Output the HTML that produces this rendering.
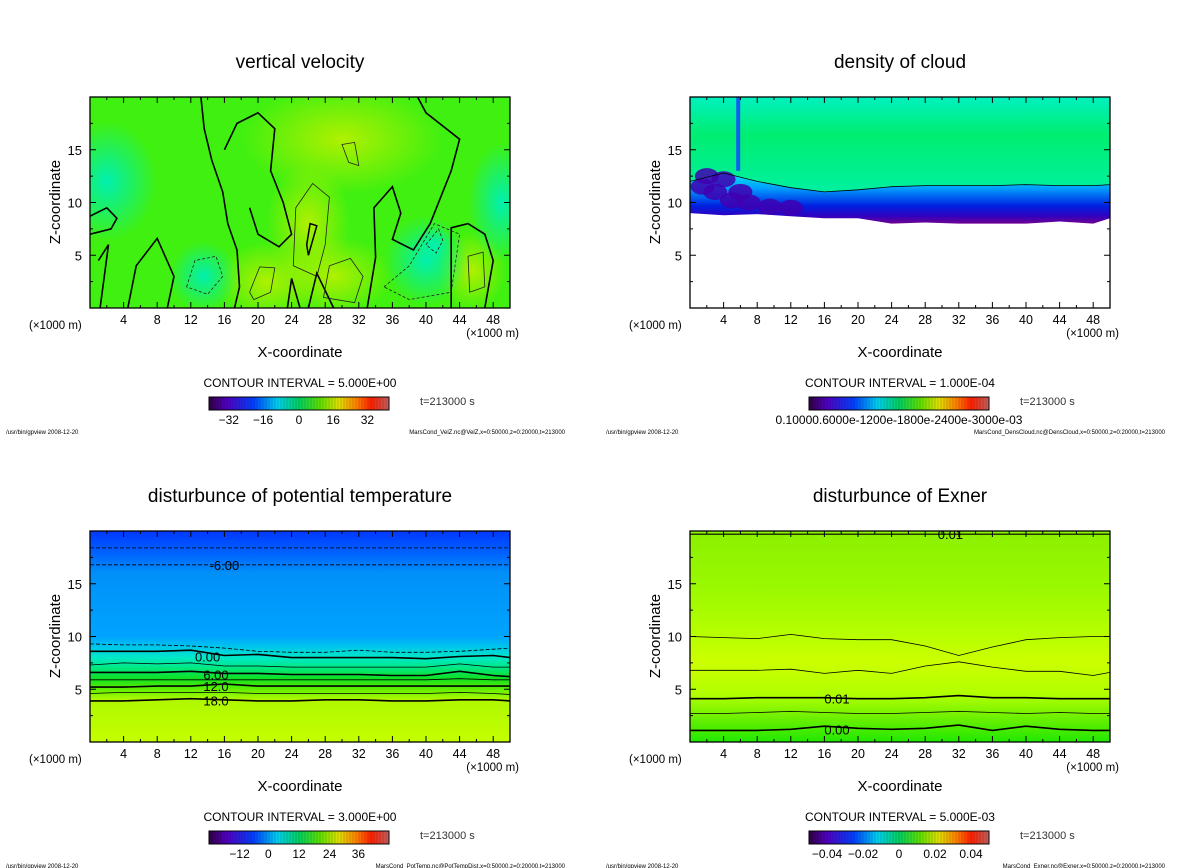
<!DOCTYPE html>
<html><head><meta charset="utf-8">
<style>
body{margin:0;background:#fff;width:1200px;height:868px;overflow:hidden}
svg{display:block;font-family:"Liberation Sans","DejaVu Sans",sans-serif}
</style></head>
<body>
<svg id="c" width="1200" height="868" viewBox="0 0 1200 868" xmlns="http://www.w3.org/2000/svg">
<defs>
<linearGradient id="gPT" x1="0" y1="0" x2="0" y2="1">
<stop offset="0" stop-color="#0038ff"/><stop offset="0.1" stop-color="#0060ff"/><stop offset="0.2" stop-color="#0090f8"/>
<stop offset="0.5" stop-color="#00a4ff"/><stop offset="0.54" stop-color="#00c0f0"/><stop offset="0.6" stop-color="#00e8c8"/>
<stop offset="0.65" stop-color="#00e880"/><stop offset="0.7" stop-color="#10e020"/><stop offset="0.75" stop-color="#60f000"/>
<stop offset="0.8" stop-color="#b0f800"/><stop offset="1" stop-color="#c4ff00"/></linearGradient>
<linearGradient id="gEX" x1="0" y1="0" x2="0" y2="1">
<stop offset="0" stop-color="#8cf000"/><stop offset="0.25" stop-color="#98f800"/><stop offset="0.5" stop-color="#b8ff00"/>
<stop offset="0.62" stop-color="#ccff00"/><stop offset="0.78" stop-color="#b0ff00"/><stop offset="0.88" stop-color="#70f000"/>
<stop offset="1" stop-color="#20e800"/></linearGradient>
<linearGradient id="gTopCl" x1="0" y1="0" x2="0" y2="1">
<stop offset="0" stop-color="#00f0c0"/><stop offset="0.4" stop-color="#00ee70"/><stop offset="1" stop-color="#00f0a0"/></linearGradient>
<linearGradient id="gCL" x1="0" y1="0" x2="0" y2="1">
<stop offset="0" stop-color="#00e8f0"/><stop offset="0.3" stop-color="#00a0ff"/><stop offset="0.65" stop-color="#0020e0"/>
<stop offset="0.85" stop-color="#3000c0"/><stop offset="1" stop-color="#700090"/></linearGradient>
<linearGradient id="gCB" x1="0" y1="0" x2="1" y2="0">
<stop offset="0" stop-color="#300040"/><stop offset="0.1" stop-color="#5000c0"/><stop offset="0.25" stop-color="#0040ff"/>
<stop offset="0.38" stop-color="#00d0f0"/><stop offset="0.5" stop-color="#00d060"/><stop offset="0.62" stop-color="#60e000"/>
<stop offset="0.72" stop-color="#e0e000"/><stop offset="0.82" stop-color="#ff8000"/><stop offset="0.9" stop-color="#ff2000"/>
<stop offset="1" stop-color="#c06060"/></linearGradient>
<radialGradient id="gY"><stop offset="0" stop-color="#b0f000"/><stop offset="1" stop-color="#b0f000" stop-opacity="0"/></radialGradient>
<radialGradient id="gC"><stop offset="0" stop-color="#00f0b0"/><stop offset="1" stop-color="#00f0b0" stop-opacity="0"/></radialGradient>
</defs>
<g id="root"></g>
</svg>
<script>
// data arrays
const xTicks = [4,8,12,16,20,24,28,32,36,40,44,48];
const zTicks = [5,10,15];
const xsProfile = [0,4,8,12,16,20,24,28,32,36,40,44,48,50];
// potential temperature contour heights (km) along xsProfile
const ptLevels = [
 [18.4,18.4,18.4,18.4,18.4,18.4,18.4,18.4,18.4,18.4,18.4,18.4,18.4,18.4],
 [16.8,16.8,16.8,16.8,16.8,16.8,16.8,16.8,16.8,16.8,16.8,16.8,16.8,16.8],
 [9.3,9.2,9.2,9.1,8.9,8.6,8.5,8.5,8.7,8.5,8.5,8.6,8.8,8.9],
 [8.6,8.6,8.6,8.7,8.2,8.3,8.0,8.0,8.0,8.0,7.9,8.1,8.2,8.0],
 [7.3,7.5,7.4,7.5,7.2,7.2,7.1,7.1,7.1,7.1,7.1,7.4,7.1,7.1],
 [6.6,6.6,6.6,6.7,6.5,6.5,6.4,6.4,6.4,6.3,6.3,6.7,6.3,6.2],
 [5.9,5.9,5.9,5.9,5.9,5.9,5.9,5.9,5.9,5.9,5.9,6.0,5.9,5.9],
 [5.2,5.2,5.3,5.3,5.5,5.3,5.3,5.3,5.3,5.3,5.3,5.3,5.3,5.3],
 [4.6,4.7,4.7,4.7,4.7,4.6,4.6,4.6,4.6,4.6,4.6,4.7,4.6,4.5],
 [3.9,3.9,4.0,4.1,4.0,3.9,3.9,4.0,4.0,3.9,3.9,4.0,4.0,3.9]];
const ptDashed = [true,true,true,false,false,false,false,false,false,false];
const ptLabels = [[16,16.8,"-6.00"],[14,8.1,"0.00"],[15,6.4,"6.00"],[15,5.3,"12.0"],[15,3.95,"18.0"]];
// Exner contour heights
const exLevels = [
 [19.7,19.7,19.7,19.7,19.7,19.7,19.7,19.7,19.7,19.7,19.7,19.7,19.7,19.7],
 [10.0,9.9,9.8,10.2,9.8,9.7,9.7,9.1,8.2,9.0,9.7,9.9,10.0,10.0],
 [6.8,6.8,6.8,6.9,6.5,6.8,6.5,7.2,7.6,7.1,6.7,6.7,6.3,6.6],
 [4.1,4.1,4.2,4.2,4.2,4.1,4.1,4.2,4.4,4.2,4.2,4.1,4.1,4.1],
 [2.7,2.7,2.8,2.9,2.8,2.7,2.7,2.8,2.9,2.8,2.7,2.8,2.7,2.7],
 [1.1,1.1,1.1,1.2,1.5,1.3,1.2,1.3,1.6,1.1,1.5,1.2,1.1,1.1]];
const exWidth = [1.2,0.8,0.8,1.6,0.8,1.6];
const exLabels = [[31,19.7,"0.01"],[17.5,4.1,"0.01"],[17.5,1.2,"0.00"]];
// cloud top boundary (upper contour) and base
const clTop = [12.0,12.8,12.0,11.4,11.0,11.2,11.5,11.6,11.6,11.6,11.7,11.6,11.6,11.7];
const clBase = [9.0,8.8,8.9,8.7,8.5,8.5,8.0,8.1,8.0,8.0,8.0,8.2,8.0,8.5];
// vertical velocity zero contours (x in km, z in km)
const vvZero = [
 [[13.2,20],[13.6,17],[14.5,14],[15.8,11],[16.4,8],[17.5,5.5],[17.8,2],[17.2,0]],
 [[16,15],[17.5,17.5],[20,18.5],[22,17],[21.5,13],[23,10],[24,7],[22.5,5.8],[20,7],[19,9.5]],
 [[33,0],[34,4.8],[33.8,9.5],[36,11.5],[37,9],[36,6.5],[38.5,5.5],[40.5,8],[43,13],[44,16],[40,18.5],[39,20]],
 [[23.5,0],[24,2.8],[25,0]],[[26,0],[27,3.3],[29,0]],[[1.2,0],[2.2,6],[1,4.5]],
 [[4.5,0],[5.5,4],[8,6.6],[10,3],[9.2,0]],[[43,0],[43,7.6],[45,8],[47,7],[48,4.5],[47,0]],
 [[0,8.7],[2,9.5],[3.2,8.5],[2.5,7.5],[0,7]]];
const vvPos = [[[19,1.5],[20.2,3.9],[22,3.8],[21.5,1.5],[19.5,0.8]],[[24.2,4],[24.5,9.5],[26.5,11.8],[28.5,10.5],[28,6],[27,3]],
 [[27.8,1],[28.5,4],[31,4.7],[32.5,3],[31.5,0.5]],[[45,4.9],[46.8,5.3],[47,2],[45.2,1.5]],[[30,15.5],[31.5,15.7],[32,13.5],[30.8,13.8]]];
const vvNeg = [[[11.5,2],[12.5,4.5],[15,4.9],[15.8,3],[14,1.3]],[[40,6],[41.5,7.5],[42,6.4],[41.2,5.2]],[[35,2],[38,4],[41,8],[44,7],[43,1.5],[38,0.8]]];

const svg = document.getElementById('root');
const NS='http://www.w3.org/2000/svg';
function el(tag,attrs,parent){const e=document.createElementNS(NS,tag);for(const k in attrs)e.setAttribute(k,attrs[k]);(parent||svg).appendChild(e);return e;}
function txt(s,x,y,size,anchor,parent,extra){const t=el('text',Object.assign({x:x,y:y,'font-size':size,'text-anchor':anchor||'start',fill:'#000'},extra||{}),parent);t.textContent=s;return t;}

function panel(ox,oy,title,name,opts){
  const g=el('g',{});
  
  
  const X0=ox,X1=ox+420,Y0=oy,Y1=oy+211;
  const sx=v=>X0+v/50*420, sz=v=>Y1-v/20*211;
  const t=txt(title,ox+210,oy-29,19,'middle',g);
  
  
  const plot=el('g',{},g);
  
  
  const clip='clip'+name;
  const cp=el('clipPath',{id:clip},g);el('rect',{x:X0,y:Y0,width:420,height:211},cp);
  plot.setAttribute('clip-path','url(#'+clip+')');
  opts.draw(plot,sx,sz);
  const frame=el('rect',{x:X0,y:Y0,width:420,height:211,fill:'none',stroke:'#000','stroke-width':1.3},g);
  
  
  for(let v=2;v<50;v+=2){const L=(v%4==0)?6:3;
    el('line',{x1:sx(v),x2:sx(v),y1:Y1,y2:Y1-L,stroke:'#000'},g);el('line',{x1:sx(v),x2:sx(v),y1:Y0,y2:Y0+L,stroke:'#000'},g);}
  for(let v=2.5;v<20;v+=2.5){const L=(v%5==0)?6:3;
    el('line',{x1:X0,x2:X0+L,y1:sz(v),y2:sz(v),stroke:'#000'},g);el('line',{x1:X1,x2:X1-L,y1:sz(v),y2:sz(v),stroke:'#000'},g);}
  xTicks.forEach(v=>{const l=txt(String(v),sx(v),Y1+16,12.5,'middle',g);
    
    });
  zTicks.forEach(v=>{const l=txt(String(v),X0-8,sz(v)+5,13,'end',g);
    
    });
  const u1=txt('(×1000 m)',X0-61,Y1+21,11.5,'start',g);
  
  
  const u2=txt('(×1000 m)',X1+9,Y1+29,11.5,'end',g);
  
  
  const xl=txt('X-coordinate',X0+210,Y1+49,15,'middle',g);
  
  
  const zl=txt('Z-coordinate',0,0,15,'middle',g,{transform:'translate('+(X0-30)+','+(Y0+105)+') rotate(-90)'});
  
  
  const ci=txt('CONTOUR INTERVAL = '+opts.ci,X0+210,Y1+79,12,'middle',g);
  
  
  const cb=el('rect',{x:X0+119,y:Y1+89,width:180,height:13,fill:'url(#gCB)',stroke:'#000'},g);
  
  
  for(let i=1;i<60;i++)el('line',{x1:X0+119+i*3,x2:X0+119+i*3,y1:Y1+90,y2:Y1+101,stroke:'#000','stroke-opacity':0.25,'stroke-width':0.6},g);
  opts.cbl.forEach(p=>{const l=txt(p[1],X0+119+p[0]*180,Y1+116,12,'middle',g);
    
    });
  const tt=txt('t=213000 s',X0+330,Y1+97,11,'start',g,{fill:'#333'});
  
  
  const f1=txt('/usr/bin/gpview  2008-12-20',ox-84,Y1+126,6,'start',g);
  
  
  const f2=txt(opts.foot,X1+55,Y1+126,6,'end',g);
  
  
}
function levelPath(sx,sz,arr){return arr.map((z,i)=>(i?'L':'M')+sx(xsProfile[i]).toFixed(1)+','+sz(z).toFixed(1)).join(' ');}
function polyPath(sx,sz,pts,close){return pts.map((p,i)=>(i?'L':'M')+sx(p[0]).toFixed(1)+','+sz(p[1]).toFixed(1)).join(' ')+(close?' Z':'');}

panel(90,97,'vertical velocity','vertical-velocity',{ci:'5.000E+00',cbl:[[0.11,'−32'],[0.3,'−16'],[0.5,'0'],[0.69,'16'],[0.88,'32']],
 foot:'MarsCond_VelZ.nc@VelZ,x=0:50000,z=0:20000,t=213000',
 draw:(p,sx,sz)=>{
  el('rect',{x:90,y:97,width:420,height:211,fill:'#40f010'},p);
  [[26,8,5,60],[29,3,7,40],[21,2.5,6,40],[45.5,3.5,4,40],[30,16,12,55]].forEach(b=>el('ellipse',{cx:sx(b[0]),cy:sz(b[1]),rx:b[2]*8.4,ry:b[3],fill:'url(#gY)'},p));
  [[13.5,3,4,35],[40,4.5,5,45],[41,6,2,18],[49,10,4,60],[2,12,6,60]].forEach(b=>el('ellipse',{cx:sx(b[0]),cy:sz(b[1]),rx:b[2]*8.4,ry:b[3],fill:'url(#gC)'},p));
  vvZero.forEach(c=>{const e=el('path',{d:polyPath(sx,sz,c,false),fill:'none',stroke:'#000','stroke-width':1.6},p);
    
    });
  vvPos.forEach(c=>{const e=el('path',{d:polyPath(sx,sz,c,true),fill:'none',stroke:'#222','stroke-width':0.8},p);
    
    });
  vvNeg.forEach(c=>{const e=el('path',{d:polyPath(sx,sz,c,true),fill:'none',stroke:'#222','stroke-width':0.8,'stroke-dasharray':'3,2'},p);
    
    });
  el('path',{d:polyPath(sx,sz,[[26,5],[27,7.8],[26.2,8],[25.8,6]],true),fill:'none',stroke:'#000','stroke-width':1.5},p);
 }});

panel(690,97,'density of cloud','density-of-cloud',{ci:'1.000E-04',cbl:[[0.5,'0.10000.6000e-1200e-1800e-2400e-3000e-03']],
 foot:'MarsCond_DensCloud.nc@DensCloud,x=0:50000,z=0:20000,t=213000',
 draw:(p,sx,sz)=>{
  el('rect',{x:690,y:97,width:420,height:211,fill:'#fff'},p);
  el('rect',{x:690,y:97,width:420,height:sz(11)-97,fill:'url(#gTopCl)'},p);
  const top=levelPath(sx,sz,clTop);
  let band=top;
  for(let i=clBase.length-1;i>=0;i--)band+=' L'+sx(xsProfile[i]).toFixed(1)+','+sz(clBase[i]).toFixed(1);
  band+=' Z';
  const b=el('path',{d:band,fill:'url(#gCL)'},p);
  
  
  el('rect',{x:sx(5.5),y:97,width:4,height:sz(13)-97,fill:'#1060f0'},p);
  [[1.5,11.5],[3,11],[5,10.2],[7,10],[9.5,9.6],[12,9.5],[2,12.5],[4,12.2],[6,11]].forEach(c=>el('ellipse',{cx:sx(c[0]),cy:sz(c[1]),rx:12,ry:8,fill:'#4000b0','fill-opacity':0.85},p));
  const c=el('path',{d:top,fill:'none',stroke:'#000','stroke-width':0.8},p);
  
  
 }});

panel(90,531,'disturbunce of potential temperature','potential-temperature',{ci:'3.000E+00',cbl:[[0.17,'−12'],[0.33,'0'],[0.5,'12'],[0.67,'24'],[0.83,'36']],
 foot:'MarsCond_PotTemp.nc@PotTempDist,x=0:50000,z=0:20000,t=213000',
 draw:(p,sx,sz)=>{
  el('rect',{x:90,y:531,width:420,height:211,fill:'url(#gPT)'},p);
  ptLevels.forEach((lv,i)=>{const e=el('path',{d:levelPath(sx,sz,lv),fill:'none',stroke:'#000','stroke-width':(i==3||i==5||i==7||i==9)?1.6:0.8,'stroke-dasharray':ptDashed[i]?'4,2':'none'},p);
    
    });
  ptLabels.forEach(l=>{
    const t=txt(l[2],sx(l[0]),sz(l[1])+5,13,'middle',p,{stroke:'none'});
    
    });
 }});

panel(690,531,'disturbunce of Exner','exner',{ci:'5.000E-03',cbl:[[0.1,'−0.04'],[0.3,'−0.02'],[0.5,'0'],[0.7,'0.02'],[0.9,'0.04']],
 foot:'MarsCond_Exner.nc@Exner,x=0:50000,z=0:20000,t=213000',
 draw:(p,sx,sz)=>{
  el('rect',{x:690,y:531,width:420,height:211,fill:'url(#gEX)'},p);
  exLevels.forEach((lv,i)=>{const e=el('path',{d:levelPath(sx,sz,lv),fill:'none',stroke:'#000','stroke-width':exWidth[i]},p);
    
    });
  exLabels.forEach(l=>{
    const t=txt(l[2],sx(l[0]),sz(l[1])+5,13,'middle',p);
    
    });
 }});
</script>
</body></html>
